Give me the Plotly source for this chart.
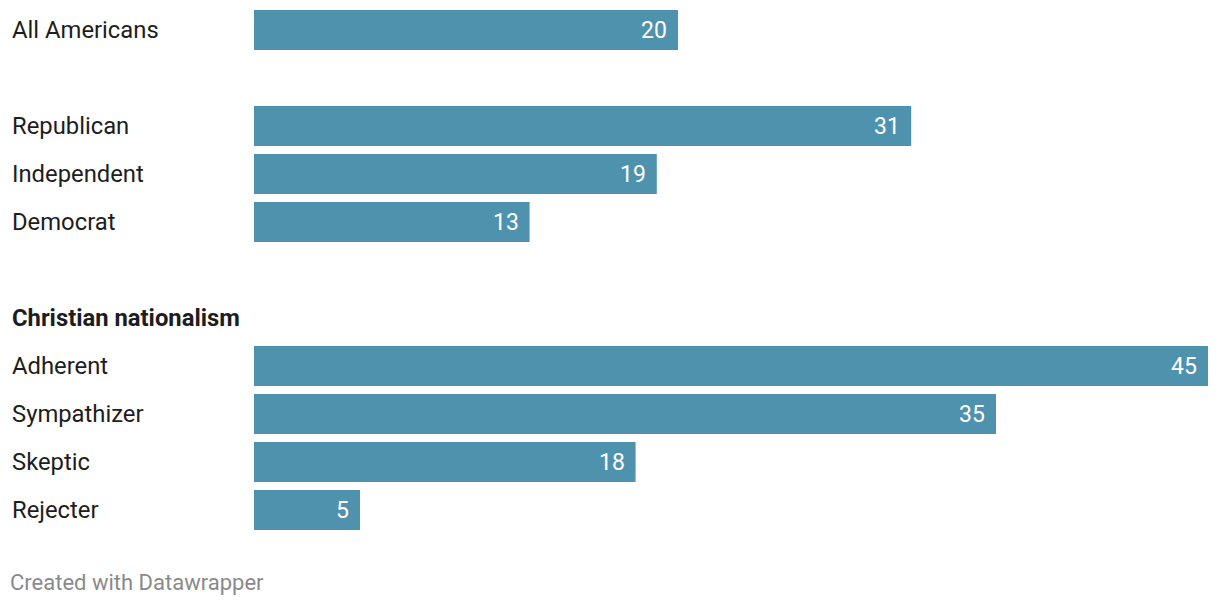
import plotly.graph_objects as go

# data
categories = ["All Americans", "Republican", "Independent", "Democrat",
              "Adherent", "Sympathizer", "Skeptic", "Rejecter"]
values = [20, 31, 19, 13, 45, 35, 18, 5]
group_header = "Christian nationalism"

# full row order, blank rows used as spacers
rows = ["All Americans", " ", "Republican", "Independent", "Democrat", "  ",
        group_header, "Adherent", "Sympathizer", "Skeptic", "Rejecter"]

BAR = "#4f92ae"
FONT = "Roboto, Arial, sans-serif"
W, H = 1220, 606
L, R, T, B = 254, 12, 6, 72

fig = go.Figure(go.Bar(
    x=values,
    y=categories,
    orientation="h",
    marker=dict(color=BAR, line=dict(width=0)),
    width=0.833,
    hoverinfo="skip",
))

# value labels inside the bar end
for c, v in zip(categories, values):
    fig.add_annotation(x=v, y=c, text=str(v), showarrow=False,
                       xanchor="right", xshift=-9,
                       font=dict(family=FONT, size=23, color="white"))

# row labels (left aligned)
lab_x = (10 - L) / (W - L - R)
for r in rows:
    if not r.strip():
        continue
    bold = r == group_header
    fig.add_annotation(x=lab_x, xref="paper", y=r, yref="y",
                       text=f"<b>{r}</b>" if bold else r, showarrow=False,
                       xanchor="left",
                       font=dict(family=FONT, size=23.8, color="#1d1d1d"))

fig.add_annotation(x=(8 - L) / (W - L - R), xref="paper", y=-(582 - (H - B)) / (H - T - B),
                   yref="paper", text="Created with Datawrapper", showarrow=False,
                   xanchor="left", yanchor="middle",
                   font=dict(family=FONT, size=22, color="#8a8a8a"))

fig.update_layout(
    width=W, height=H,
    margin=dict(l=L, r=R, t=T, b=B),
    paper_bgcolor="white", plot_bgcolor="white",
    showlegend=False,
    xaxis=dict(range=[0, 45], visible=False, fixedrange=True),
    yaxis=dict(type="category", categoryorder="array", categoryarray=rows,
               range=[len(rows) - 0.5, -0.5], visible=False, fixedrange=True),
)

fig.write_html("out.html", config={"displayModeBar": False},
               post_script="document.body.style.margin='0';")
